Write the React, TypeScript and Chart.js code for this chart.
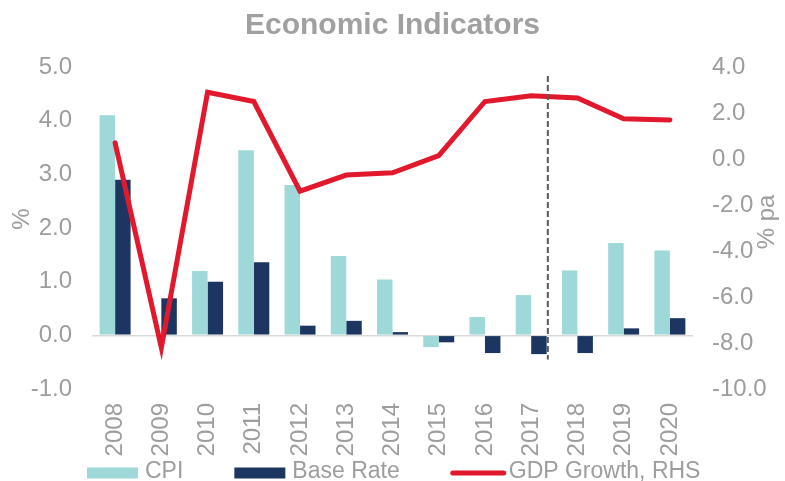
import React, { useEffect, useRef } from 'react';
import { Chart, registerables } from 'chart.js';

Chart.register(...registerables);

const FONT = "'Liberation Sans', Arial, sans-serif";
const GRAY = '#9d9d9d';

const years = ['2008', '2009', '2010', '2011', '2012', '2013', '2014', '2015', '2016', '2017', '2018', '2019', '2020'];
const cpi = [4.1, 0, 1.2, 3.45, 2.8, 1.48, 1.04, -0.22, 0.34, 0.75, 1.21, 1.72, 1.58];
const baseRate = [2.9, 0.69, 1.0, 1.36, 0.18, 0.27, 0.06, -0.13, -0.33, -0.35, -0.33, 0.13, 0.32];
const gdp = [0.7, -8.2, 2.9, 2.5, -1.4, -0.7, -0.6, 0.15, 2.5, 2.75, 2.65, 1.75, 1.7];

const seriesNames = ['CPI', 'Base Rate', 'GDP Growth, RHS'];
const seriesColors = ['#9ed8d9', '#1d3661', '#e2182d'];

const leftRange = { min: -1, max: 5, step: 1 };
const rightRange = { min: -10, max: 4, step: 2 };

// forecast divider: after 2017 bars
const dividerIndex = 9;
const dividerOffset = 0.36;
const dividerTop = 4.83;
const dividerBottom = -0.45;

const overlay = {
  id: 'overlay',
  afterDatasetsDraw(chart: any) {
    const { ctx, scales } = chart;
    const x = scales.x;
    const y = scales.y;
    const cw = x.getPixelForValue(1) - x.getPixelForValue(0);
    const px = x.getPixelForValue(dividerIndex) + dividerOffset * cw;
    ctx.save();
    ctx.strokeStyle = '#595959';
    ctx.lineWidth = 2;
    ctx.setLineDash([6, 3]);
    ctx.beginPath();
    ctx.moveTo(px, y.getPixelForValue(dividerTop));
    ctx.lineTo(px, y.getPixelForValue(dividerBottom));
    ctx.stroke();
    ctx.restore();
  },
  afterDraw(chart: any) {
    const { ctx, chartArea } = chart;
    ctx.save();
    ctx.fillStyle = GRAY;
    ctx.font = `24px ${FONT}`;
    ctx.textAlign = 'center';
    ctx.textBaseline = 'middle';
    const midY = (chartArea.top + chartArea.bottom) / 2;
    // left axis title
    ctx.save();
    ctx.translate(22, midY - 9);
    ctx.rotate(-Math.PI / 2);
    ctx.fillText('%', 0, 0);
    ctx.restore();
    // right axis title
    ctx.save();
    ctx.translate(767, midY - 6);
    ctx.rotate(-Math.PI / 2);
    ctx.fillText('% pa', 0, 0);
    ctx.restore();

    // legend
    ctx.font = `23px ${FONT}`;
    ctx.textAlign = 'left';
    let lx = 87;
    const ly = 473;
    const symW = 51;
    chart.data.datasets.forEach((ds: any, i: number) => {
      if (ds.type === 'line') {
        ctx.strokeStyle = ds.borderColor;
        ctx.lineWidth = 5;
        ctx.lineCap = 'round';
        ctx.beginPath();
        ctx.moveTo(lx + 2, ly);
        ctx.lineTo(lx + symW + 2, ly);
        ctx.stroke();
      } else {
        ctx.fillStyle = ds.backgroundColor;
        ctx.fillRect(lx, ly - 5.5, symW, 11);
      }
      ctx.fillStyle = GRAY;
      const tx = lx + symW + 7;
      ctx.fillText(ds.label, tx, ly - 1);
      lx = tx + ctx.measureText(ds.label).width + 51;
    });
    ctx.restore();
  },
};

export default function App() {
  const ref = useRef<HTMLCanvasElement>(null);
  useEffect(() => {
    const chart = new Chart(ref.current as HTMLCanvasElement, {
      type: 'bar',
      data: {
        labels: years,
        datasets: [
          {
            type: 'bar',
            label: seriesNames[0],
            data: cpi,
            backgroundColor: seriesColors[0],
            yAxisID: 'y',
            order: 1,
            barPercentage: 1,
            categoryPercentage: 0.67,
          },
          {
            type: 'bar',
            label: seriesNames[1],
            data: baseRate,
            backgroundColor: seriesColors[1],
            yAxisID: 'y',
            order: 1,
            barPercentage: 1,
            categoryPercentage: 0.67,
          },
          {
            type: 'line',
            label: seriesNames[2],
            data: gdp,
            borderColor: seriesColors[2],
            backgroundColor: seriesColors[2],
            borderWidth: 5,
            pointRadius: 0,
            tension: 0,
            borderJoinStyle: 'miter',
            borderCapStyle: 'round',
            yAxisID: 'y1',
            order: 0,
          } as any,
        ],
      },
      options: {
        responsive: false,
        animation: false,
        layout: { padding: 0 },
        plugins: {
          legend: { display: false },
          tooltip: { enabled: false },
          title: {
            display: true,
            text: 'Economic Indicators',
            color: '#a0a0a0',
            font: { family: FONT, size: 30, weight: 'bold' },
            padding: { top: 8, bottom: 23 },
          },
        },
        scales: {
          x: {
            grid: { display: false, drawTicks: false },
            border: { display: false },
            ticks: {
              color: GRAY,
              font: { family: FONT, size: 24 },
              minRotation: 90,
              maxRotation: 90,
              autoSkip: false,
              padding: 14,
            },
            afterFit: (s: any) => {
              s.height = 92;
            },
          },
          y: {
            position: 'left',
            min: leftRange.min,
            max: leftRange.max,
            grid: {
              drawTicks: false,
              lineWidth: 1.5,
              color: (c: any) => (c.tick && c.tick.value === 0 ? '#d9d9d9' : 'rgba(0,0,0,0)'),
            },
            border: { display: false },
            ticks: {
              stepSize: leftRange.step,
              color: GRAY,
              font: { family: FONT, size: 24 },
              padding: 20,
              callback: (v: any) => Number(v).toFixed(1),
            },
            afterFit: (s: any) => {
              s.width = 92;
            },
          },
          y1: {
            position: 'right',
            min: rightRange.min,
            max: rightRange.max,
            grid: { display: false, drawTicks: false },
            border: { display: false },
            ticks: {
              stepSize: rightRange.step,
              color: GRAY,
              font: { family: FONT, size: 24 },
              padding: 19,
              callback: (v: any) => Number(v).toFixed(1),
            },
            afterFit: (s: any) => {
              s.width = 92;
            },
          },
        },
      },
      plugins: [overlay],
    } as any);
    return () => chart.destroy();
  }, []);
  return (
    <canvas
      ref={ref}
      width={785}
      height={481}
      style={{ position: 'absolute', left: 0, top: 0, display: 'block' }}
    />
  );
}
